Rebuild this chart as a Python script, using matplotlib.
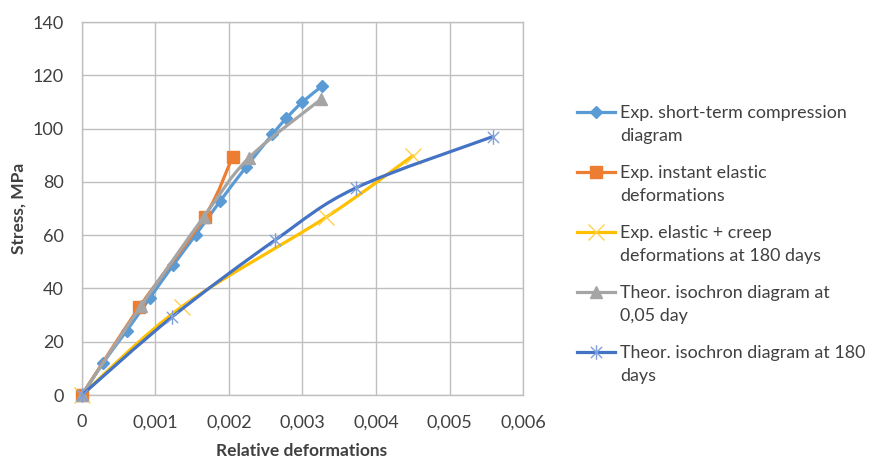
import numpy as np
import matplotlib
matplotlib.use("Agg")
import matplotlib.pyplot as plt
from matplotlib.path import Path
from matplotlib.patches import PathPatch
from matplotlib.lines import Line2D

plt.rcParams['font.family'] = ['Lato', 'DejaVu Sans']

# Data
short_x = [0, 0.00029, 0.00061, 0.00092, 0.00124, 0.00155, 0.00188, 0.00223, 0.00259, 0.00278, 0.00300, 0.00327]
short_y = [0, 12.2, 24.2, 36.3, 48.7, 60.2, 72.8, 85.5, 97.8, 103.9, 110.0, 116.0]

inst_x = [0, 0.00078, 0.00167, 0.00205]
inst_y = [0, 33.0, 67.0, 89.5]

creep_x = [0, 0.00136, 0.00332, 0.00450]
creep_y = [0, 33.2, 66.7, 89.8]

iso005_x = [0, 0.00080, 0.00166, 0.00227, 0.00325]
iso005_y = [0, 33.3, 67.0, 89.0, 111.0]

iso180_x = [0, 0.00123, 0.00263, 0.00373, 0.00559]
iso180_y = [0, 29.4, 58.2, 77.8, 97.0]

labels = ["Exp. short-term compression\ndiagram",
          "Exp. instant elastic\ndeformations",
          "Exp. elastic + creep\ndeformations at 180 days",
          "Theor. isochron diagram at\n0,05 day",
          "Theor. isochron diagram at 180\ndays"]

x_ticks = [0, 0.001, 0.002, 0.003, 0.004, 0.005, 0.006]
x_tick_labels = ["0", "0,001", "0,002", "0,003", "0,004", "0,005", "0,006"]
y_ticks = [0, 20, 40, 60, 80, 100, 120, 140]

# asterisk marker like Excel's (x plus vertical bar)
star = Path([(-1, -1), (1, 1), (-1, 1), (1, -1), (0, -1.3), (0, 1.3)],
            [Path.MOVETO, Path.LINETO, Path.MOVETO, Path.LINETO, Path.MOVETO, Path.LINETO])


def smooth_path(xs, ys):
    # Excel-style smoothed line: cubic bezier through the points
    pts = np.column_stack([xs, ys]).astype(float)
    n = len(pts)
    verts = [pts[0]]
    codes = [Path.MOVETO]
    for i in range(n - 1):
        p0 = pts[i - 1] if i > 0 else pts[i]
        p1 = pts[i]
        p2 = pts[i + 1]
        p3 = pts[i + 2] if i + 2 < n else pts[i + 1]
        c1 = p1 + (p2 - p0) / 6.0
        c2 = p2 - (p3 - p1) / 6.0
        verts += [c1, c2, p2]
        codes += [Path.CURVE4] * 3
    return Path(verts, codes)


W, H = 872, 459
fig = plt.figure(figsize=(W / 100, H / 100), dpi=100)
ax = fig.add_axes([0.094, 0.1394, 0.5058, 0.8126])

series = [
    (short_x, short_y, '#5B9BD5', dict(marker='D', markersize=6.5, markerfacecolor='#5B9BD5', markeredgecolor='#5B9BD5')),
    (inst_x, inst_y, '#ED7D31', dict(marker='s', markersize=8.5, markerfacecolor='#ED7D31', markeredgecolor='#ED7D31')),
    (creep_x, creep_y, '#FFC000', dict(marker='x', markersize=11, markeredgewidth=1.0, markeredgecolor='#FFD24D')),
    (iso005_x, iso005_y, '#A5A5A5', dict(marker='^', markersize=8.5, markerfacecolor='#A5A5A5', markeredgecolor='#A5A5A5')),
    (iso180_x, iso180_y, '#4472C4', dict(marker=star, markersize=10.5, markeredgewidth=1.0, markeredgecolor='#7F9FD8')),
]

for i, (xs, ys, col, mk) in enumerate(series):
    patch = PathPatch(smooth_path(xs, ys), facecolor='none', edgecolor=col, lw=2.3,
                      capstyle='round', joinstyle='round', zorder=3 + i)
    ax.add_patch(patch)
    ax.plot(xs, ys, linestyle='none', zorder=3 + i, clip_on=False, **mk)

    # legend entry, handle aligned with the first text line (Excel style)
    yl = 1 - (112 + 60 * i) / H
    fig.add_artist(Line2D([577 / W, 615 / W], [yl, yl], color=col, lw=2.3,
                          transform=fig.transFigure))
    fig.add_artist(Line2D([596 / W], [yl], linestyle='none', transform=fig.transFigure, **mk))
    for j, line in enumerate(labels[i].split("\n")):
        fig.text(620 / W, 1 - (112 + 60 * i + 6 + 23 * j) / H, line, fontsize=12.9,
                 color='#404040', ha='left', va='baseline')

ax.set_xlim(0, 0.006)
ax.set_ylim(0, 140)
ax.set_xticks(x_ticks)
ax.set_xticklabels(x_tick_labels)
ax.set_yticks(y_ticks)
ax.grid(True, color='#BFBFBF', lw=1.0)
for s in ax.spines.values():
    s.set_color('#BFBFBF')
    s.set_linewidth(1.0)
ax.tick_params(length=0, labelsize=13, colors='#404040')
ax.tick_params(axis='y', pad=13)
ax.tick_params(axis='x', pad=14)

fig.text(302 / W, 1 - 451 / H, "Relative deformations", fontsize=12.5, fontweight='bold',
         color='#404040', ha='center', va='center')
fig.text(19 / W, 1 - 208 / H, "Stress, MPa", fontsize=12.5, fontweight='bold',
         color='#404040', ha='center', va='center', rotation=90)

fig.savefig("out.png", dpi=100)
